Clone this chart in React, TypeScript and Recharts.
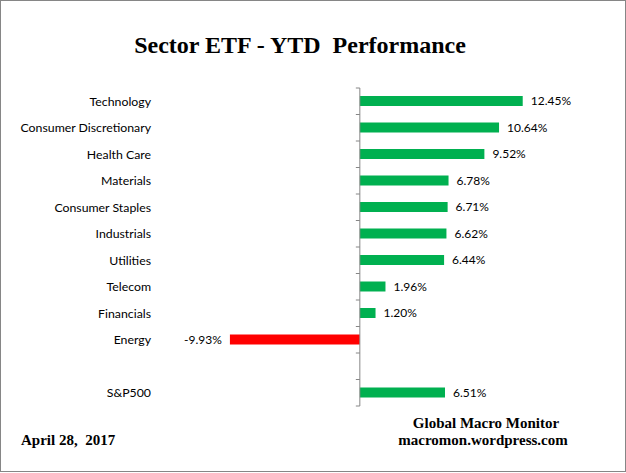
import React from "react";
import {
  BarChart,
  Bar,
  XAxis,
  YAxis,
  Cell,
  LabelList,
  ReferenceLine
} from "recharts";

// sector names, top to bottom (blank row separates the index)
const categories = [
  "Technology",
  "Consumer Discretionary",
  "Health Care",
  "Materials",
  "Consumer Staples",
  "Industrials",
  "Utilities",
  "Telecom",
  "Financials",
  "Energy",
  "",
  "S&P500"
];

// YTD performance in %
const ytdReturns: (number | null)[] = [
  12.45, 10.64, 9.52, 6.78, 6.71, 6.62, 6.44, 1.96, 1.2, -9.93, null, 6.51
];

const xDomain = [-10, 14];

const GREEN = "#00B050";
const RED = "#FF0000";
const AXIS_GRAY = "#868686";
const LABEL_FONT = "Lato, 'Noto Sans', sans-serif";
const SERIF = "'Liberation Serif', 'DejaVu Serif', serif";

const chartData = categories.map((name, i) => ({ name, value: ytdReturns[i] }));

// vertical axis at zero, with Excel-style tick marks between categories
const ZeroAxis = (props: any) => {
  const { x1, y1, y2 } = props;
  const top = Math.min(y1, y2);
  const bottom = Math.max(y1, y2);
  const step = (bottom - top) / categories.length;
  const ticks = [];
  for (let i = 0; i <= categories.length; i++) {
    const y = top + i * step;
    ticks.push(<line key={i} x1={x1 - 4} y1={y} x2={x1} y2={y} stroke={AXIS_GRAY} strokeWidth={1} />);
  }
  return (
    <g>
      <line x1={x1} y1={top} x2={x1} y2={bottom} stroke={AXIS_GRAY} strokeWidth={1} />
      {ticks}
    </g>
  );
};

const ValueLabel = (props: any) => {
  const { x, y, width, height, value } = props;
  if (value == null) return null;
  const left = Math.min(x, x + width);
  const right = Math.max(x, x + width);
  const neg = value < 0;
  return (
    <text
      x={neg ? left - 8 : right + 8}
      y={y + height / 2}
      dy="0.35em"
      textAnchor={neg ? "end" : "start"}
      fontSize={12}
      fontFamily={LABEL_FONT}
      fill="#000"
    >
      {value.toFixed(2)}%
    </text>
  );
};

export default function App() {
  return (
    <div style={{ position: "absolute", left: 0, top: 0, width: 626, height: 473, background: "#fff" }}>
      <BarChart
        width={626}
        height={473}
        data={chartData}
        layout="vertical"
        margin={{ top: 88, right: 83, bottom: 67, left: 0 }}
      >
        <XAxis type="number" domain={xDomain} hide />
        <YAxis
          type="category"
          dataKey="name"
          width={229}
          axisLine={false}
          tickLine={false}
          tickSize={0}
          tickMargin={78}
          interval={0}
          tick={{ fill: "#000", fontSize: 12.3, fontFamily: LABEL_FONT }}
        />
        <Bar dataKey="value" barSize={10} isAnimationActive={false}>
          {chartData.map((d, i) => (
            <Cell key={i} fill={(d.value ?? 0) < 0 ? RED : GREEN} />
          ))}
          <LabelList dataKey="value" content={ValueLabel} />
        </Bar>
        <ReferenceLine x={0} shape={ZeroAxis} ifOverflow="extendDomain" />
      </BarChart>
      <svg
        width={626}
        height={473}
        style={{ position: "absolute", left: 0, top: 0, pointerEvents: "none" }}
      >
        <rect x={0.5} y={0.5} width={625} height={471} fill="none" stroke={AXIS_GRAY} />
        <text x={300} y={53} textAnchor="middle" fontFamily={SERIF} fontWeight="bold" fontSize={24} fill="#000" style={{ whiteSpace: "pre" }}>
          Sector ETF - YTD  Performance
        </text>
        <text x={21} y={445} fontFamily={SERIF} fontWeight="bold" fontSize={15} fill="#000" style={{ whiteSpace: "pre" }}>
          April 28,  2017
        </text>
        <text x={486} y={428} textAnchor="middle" fontFamily={SERIF} fontWeight="bold" fontSize={15} fill="#000">
          Global Macro Monitor
        </text>
        <text x={483} y={445} textAnchor="middle" fontFamily={SERIF} fontWeight="bold" fontSize={15} fill="#000">
          macromon.wordpress.com
        </text>
      </svg>
    </div>
  );
}
